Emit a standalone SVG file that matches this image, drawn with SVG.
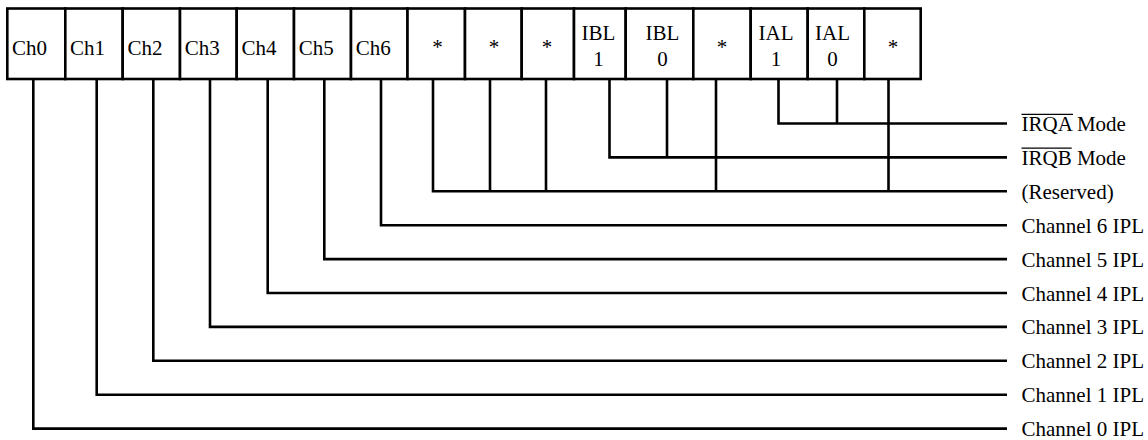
<svg xmlns="http://www.w3.org/2000/svg" width="1148" height="440" viewBox="0 0 1148 440">
<style>
  .cell { fill: #fff; stroke: #000; stroke-width: 2.6; }
  .t { font-family: "Liberation Serif", "Times New Roman", serif; font-size: 21px; fill: #000; }
  .c { text-anchor: middle; }
  .w { fill: none; stroke: #000; stroke-width: 2.6; stroke-linejoin: miter; }
  .ov { stroke: #000; stroke-width: 1.2; }
</style>
<rect width="1148" height="440" fill="#fff"/>
<g id="register">
  <g id="cell-ch0"><rect class="cell" x="7.3" y="8.5" width="58" height="70.5"/><text class="t" x="12" y="55">Ch0</text></g>
  <g id="cell-ch1"><rect class="cell" x="65.3" y="8.5" width="57.4" height="70.5"/><text class="t" x="70" y="55">Ch1</text></g>
  <g id="cell-ch2"><rect class="cell" x="122.7" y="8.5" width="57.3" height="70.5"/><text class="t" x="127.4" y="55">Ch2</text></g>
  <g id="cell-ch3"><rect class="cell" x="180" y="8.5" width="56.7" height="70.5"/><text class="t" x="184.7" y="55">Ch3</text></g>
  <g id="cell-ch4"><rect class="cell" x="236.7" y="8.5" width="57.3" height="70.5"/><text class="t" x="241.4" y="55">Ch4</text></g>
  <g id="cell-ch5"><rect class="cell" x="294" y="8.5" width="57" height="70.5"/><text class="t" x="298.7" y="55">Ch5</text></g>
  <g id="cell-ch6"><rect class="cell" x="351" y="8.5" width="56.5" height="70.5"/><text class="t" x="355.7" y="55">Ch6</text></g>
  <g id="cell-r1"><rect class="cell" x="407.5" y="8.5" width="57.5" height="70.5"/><text class="t c" x="437.5" y="54">*</text></g>
  <g id="cell-r2"><rect class="cell" x="465" y="8.5" width="56.7" height="70.5"/><text class="t c" x="494" y="54">*</text></g>
  <g id="cell-r3"><rect class="cell" x="521.7" y="8.5" width="52.3" height="70.5"/><text class="t c" x="547" y="54">*</text></g>
  <g id="cell-ibl1"><rect class="cell" x="574" y="8.5" width="51.7" height="70.5"/><text class="t c" x="598.5" y="40">IBL</text><text class="t c" x="598.5" y="66">1</text></g>
  <g id="cell-ibl0"><rect class="cell" x="625.7" y="8.5" width="67.6" height="70.5"/><text class="t c" x="662.5" y="40">IBL</text><text class="t c" x="662.5" y="66">0</text></g>
  <g id="cell-r4"><rect class="cell" x="693.3" y="8.5" width="57.4" height="70.5"/><text class="t c" x="722" y="54">*</text></g>
  <g id="cell-ial1"><rect class="cell" x="750.7" y="8.5" width="57" height="70.5"/><text class="t c" x="776" y="40">IAL</text><text class="t c" x="776" y="66">1</text></g>
  <g id="cell-ial0"><rect class="cell" x="807.7" y="8.5" width="56.6" height="70.5"/><text class="t c" x="832.5" y="40">IAL</text><text class="t c" x="832.5" y="66">0</text></g>
  <g id="cell-r5"><rect class="cell" x="864.3" y="8.5" width="56.4" height="70.5"/><text class="t c" x="893" y="54">*</text></g>
</g>
<g id="connectors">
  <path class="w" d="M778.5 79 V123.5 H1007 M837 79 V123.5"/>
  <path class="w" d="M609.5 79 V157.4 H1007 M667 79 V157.4"/>
  <path class="w" d="M433 79 V191.3 H1007 M490 79 V191.3 M546 79 V191.3 M716 79 V191.3 M888.5 79 V191.3"/>
  <path class="w" d="M381 79 V225.2 H1007"/>
  <path class="w" d="M324.3 79 V259.1 H1007"/>
  <path class="w" d="M267.7 79 V293 H1007"/>
  <path class="w" d="M210 79 V326.9 H1007"/>
  <path class="w" d="M153.3 79 V360.8 H1007"/>
  <path class="w" d="M96.7 79 V394.7 H1007"/>
  <path class="w" d="M33.3 79 V428.6 H1007"/>
</g>
<g id="label-irqa"><text class="t" x="1021.5" y="131">IRQA Mode</text><line class="ov" x1="1021.5" y1="114.3" x2="1073" y2="114.3"/></g>
<g id="label-irqb"><text class="t" x="1021.5" y="165">IRQB Mode</text><line class="ov" x1="1021.5" y1="148.2" x2="1071.7" y2="148.2"/></g>
<g id="label-reserved"><text class="t" x="1021.5" y="198.8">(Reserved)</text></g>
<g id="label-ch6"><text class="t" x="1021.5" y="232.7">Channel 6 IPL</text></g>
<g id="label-ch5"><text class="t" x="1021.5" y="266.6">Channel 5 IPL</text></g>
<g id="label-ch4"><text class="t" x="1021.5" y="300.5">Channel 4 IPL</text></g>
<g id="label-ch3"><text class="t" x="1021.5" y="334.4">Channel 3 IPL</text></g>
<g id="label-ch2"><text class="t" x="1021.5" y="368.3">Channel 2 IPL</text></g>
<g id="label-ch1"><text class="t" x="1021.5" y="402.2">Channel 1 IPL</text></g>
<g id="label-ch0"><text class="t" x="1021.5" y="436.1">Channel 0 IPL</text></g>
</svg>
